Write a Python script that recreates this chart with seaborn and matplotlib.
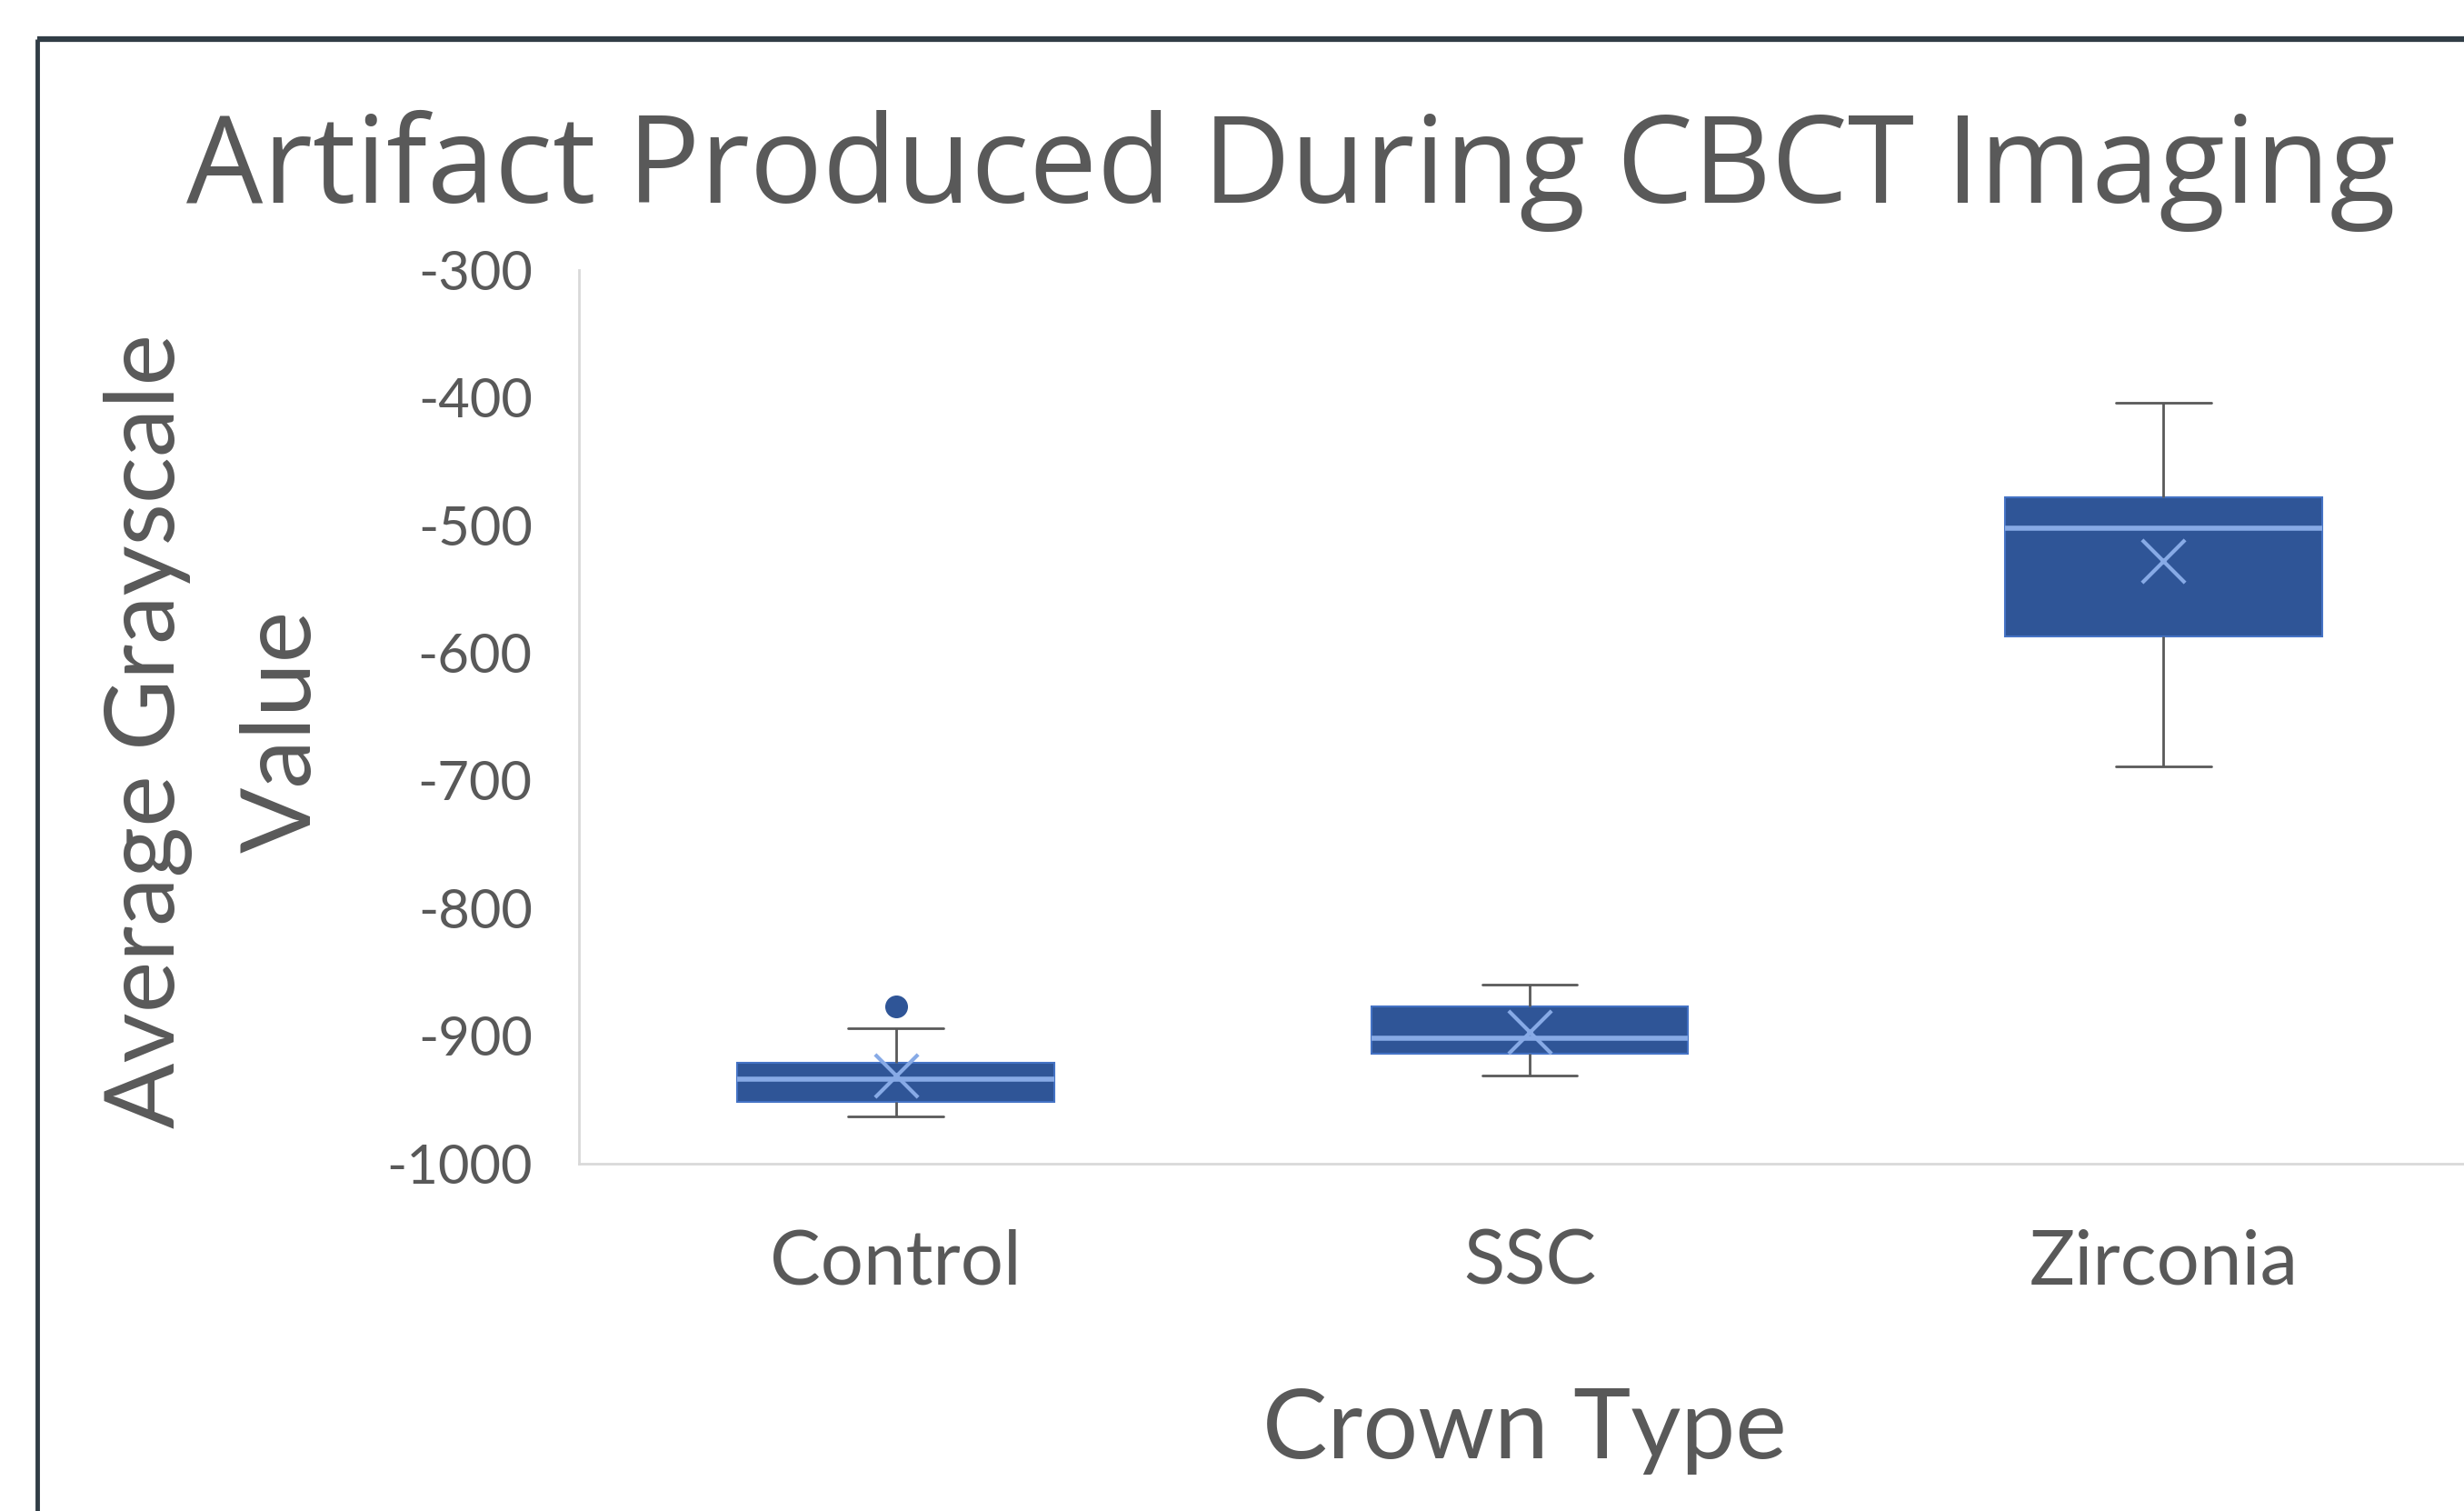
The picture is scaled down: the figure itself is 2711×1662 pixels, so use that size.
import numpy as np
import pandas as pd
import matplotlib
matplotlib.use("Agg")
import matplotlib.pyplot as plt
from matplotlib.lines import Line2D
import seaborn as sns

# ---- data ----
categories = ["Control", "SSC", "Zirconia"]
whisker_low = [-963, -931, -689]
q1 = [-952, -914, -587]
medians = [-934, -902, -502]
q3 = [-921, -877, -478]
whisker_high = [-894, -860, -404]
means = [-931, -897, -528]
outlier_cat = ["Control"]
outlier_val = [-877]
yticks = [-1000, -900, -800, -700, -600, -500, -400, -300]

title = "Artifact Produced During CBCT Imaging"
xlabel = "Crown Type"
ylabel = "Average Grayscale\nValue"

# five-number summaries as a small table (quartiles of 5 values are exact)
rows = []
for c, lo, a, m, b, hi in zip(categories, whisker_low, q1, medians, q3, whisker_high):
    for v in (lo, a, m, b, hi):
        rows.append({"Crown Type": c, "value": v})
df = pd.DataFrame(rows)

BOX = "#2F5597"
EDGE = "#4472C4"
LIGHT = "#87AAE6"
WHISK = "#595959"
TXT = "#595959"
AXIS = "#D9D9D9"
FRAME = "#313D46"

sns.set_theme(style="white")
plt.rcParams['font.family'] = ['Lato', 'DejaVu Sans']

fig = plt.figure(figsize=(27.11, 16.62), dpi=100)
fig.patch.set_facecolor("white")
ax = fig.add_axes([0.2350, 0.2301, 0.7717, 0.5912])

sns.boxplot(data=df, x="Crown Type", y="value", order=categories, ax=ax,
            whis=(0, 100), width=0.5, color=BOX, saturation=1,
            linecolor=WHISK, linewidth=2,
            boxprops=dict(facecolor=BOX, edgecolor=EDGE, linewidth=1.5),
            medianprops=dict(color=LIGHT, linewidth=4),
            whiskerprops=dict(color=WHISK, linewidth=2),
            capprops=dict(color=WHISK, linewidth=2),
            capwidths=0.15, showfliers=False)

pos = {c: i for i, c in enumerate(categories)}
ax.scatter([pos[c] for c in categories], means, marker="x", s=34 ** 2,
           color=LIGHT, linewidths=3, zorder=6)
ax.scatter([pos[c] for c in outlier_cat], outlier_val, marker="o", s=17 ** 2,
           color=BOX, zorder=6)

ax.set_xlim(-0.5, 2.5)
ax.set_ylim(-1000, -300)
ax.set_yticks(yticks)
ax.set_yticklabels([str(t) for t in yticks])
ax.tick_params(axis="y", length=0, pad=37, labelsize=43, labelcolor=TXT)
ax.tick_params(axis="x", length=0, pad=52, labelsize=60, labelcolor=TXT)
ax.set_xlabel("")
ax.set_ylabel("")
for s in ["top", "right"]:
    ax.spines[s].set_visible(False)
for s in ["left", "bottom"]:
    ax.spines[s].set_color(AXIS)
    ax.spines[s].set_linewidth(2)
ax.grid(False)

fig.text(0.524, 0.866, title, ha="center", va="baseline", fontsize=96, color=TXT,
         family=["Open Sans", "DejaVu Sans"])
fig.text(0.6186, 0.035, xlabel, ha="center", va="baseline", fontsize=77, color=TXT)
fig.text(0.0875, 0.516, ylabel, ha="center", va="center", rotation=90,
         multialignment="center", fontsize=77, color=TXT, linespacing=1.66)

# screenshot frame (top and left dark border)
fig.add_artist(Line2D([0.0151, 1.0], [0.9741, 0.9741], transform=fig.transFigure,
                      color=FRAME, linewidth=4.5, solid_capstyle="butt"))
fig.add_artist(Line2D([0.0151, 0.0151], [0.0, 0.9741], transform=fig.transFigure,
                      color=FRAME, linewidth=3.5, solid_capstyle="butt"))

fig.savefig("out.png", dpi=100, facecolor="white")
